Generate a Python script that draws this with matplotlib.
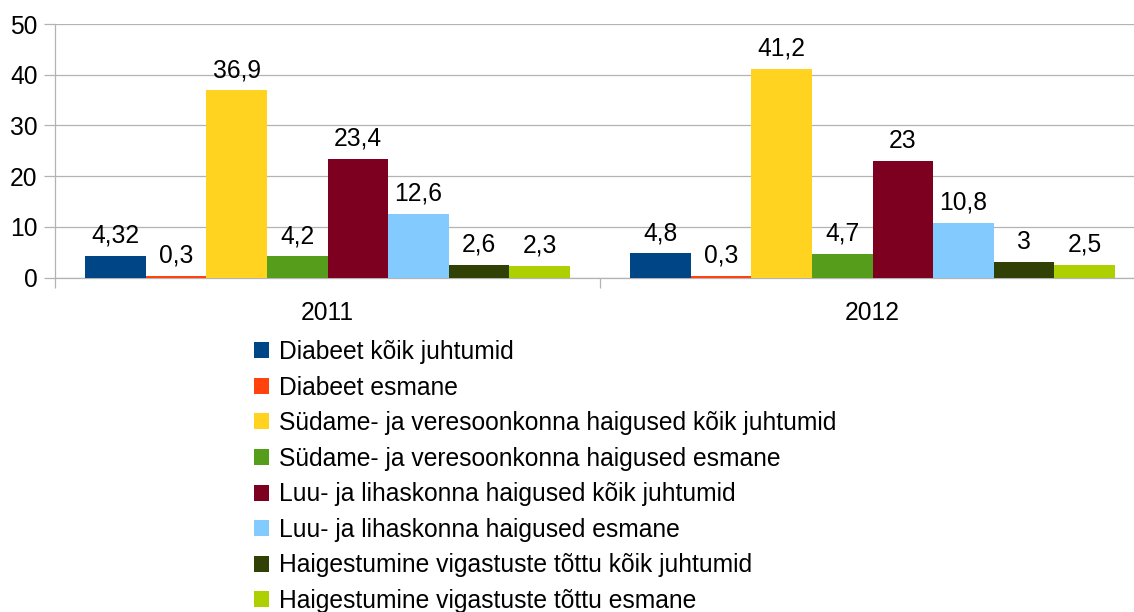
import matplotlib

matplotlib.use("Agg")
import matplotlib.pyplot as plt
import numpy as np
from matplotlib.patches import Patch

plt.rcParams["font.family"] = ["Liberation Sans", "DejaVu Sans"]

years = ["2011", "2012"]
series_names = [
    "Diabeet kõik juhtumid",
    "Diabeet esmane",
    "Südame- ja veresoonkonna haigused kõik juhtumid",
    "Südame- ja veresoonkonna haigused esmane",
    "Luu- ja lihaskonna haigused kõik juhtumid",
    "Luu- ja lihaskonna haigused esmane",
    "Haigestumine vigastuste tõttu kõik juhtumid",
    "Haigestumine vigastuste tõttu esmane",
]
values_2011 = [4.32, 0.3, 36.9, 4.2, 23.4, 12.6, 2.6, 2.3]
values_2012 = [4.8, 0.3, 41.2, 4.7, 23.0, 10.8, 3.0, 2.5]
colors = ["#004586", "#ff420e", "#ffd320", "#579d1c",
          "#7e0021", "#83caff", "#314004", "#aecf00"]

GRID = "#b3b3b3"
FS = 17.7

W, H = 1134, 612
fig = plt.figure(figsize=(W / 100, H / 100), dpi=100)
ax = fig.add_axes([55 / W, 1 - 277.7 / H, 1090 / W, 253.7 / H])

n = len(series_names)
group = 0.89
width = group / n
centers = np.arange(len(years)) + 0.5
table = np.array([values_2011, values_2012])

for i, name in enumerate(series_names):
    x = centers - group / 2 + width * (i + 0.5)
    bars = ax.bar(x, table[:, i], width=width, color=colors[i], label=name, zorder=3)
    ax.bar_label(bars, labels=[f"{v:g}".replace(".", ",") for v in table[:, i]],
                 padding=6, fontsize=FS, color="black")

ax.set_xlim(0, len(years))
ax.set_ylim(0, 50)
ax.set_yticks(np.arange(0, 51, 10))
ax.yaxis.grid(True, color=GRID, linewidth=0.9, zorder=0)
ax.tick_params(axis="y", length=8, width=0.9, color=GRID, pad=4.5, labelsize=FS)

ax.set_xticks(np.arange(len(years) + 1))
ax.set_xticklabels([])
ax.set_xticks(centers, minor=True)
ax.set_xticklabels(years, minor=True)
ax.tick_params(axis="x", which="major", length=7.5, width=0.9, color=GRID)
ax.tick_params(axis="x", which="minor", length=0, pad=17, labelsize=FS)

for side in ["top", "right"]:
    ax.spines[side].set_visible(False)
for side in ["left", "bottom"]:
    ax.spines[side].set_color(GRID)
    ax.spines[side].set_linewidth(0.9)

handles = [Patch(facecolor=c, edgecolor="none") for c in colors]
fig.legend(handles, series_names, loc="upper left",
           bbox_to_anchor=(254 / W, 1 - 340 / H), frameon=False,
           fontsize=FS, handlelength=0.62, handleheight=0.62,
           handletextpad=0.38, labelspacing=0.47, borderpad=0, borderaxespad=0)

fig.savefig("out.png", dpi=100)
